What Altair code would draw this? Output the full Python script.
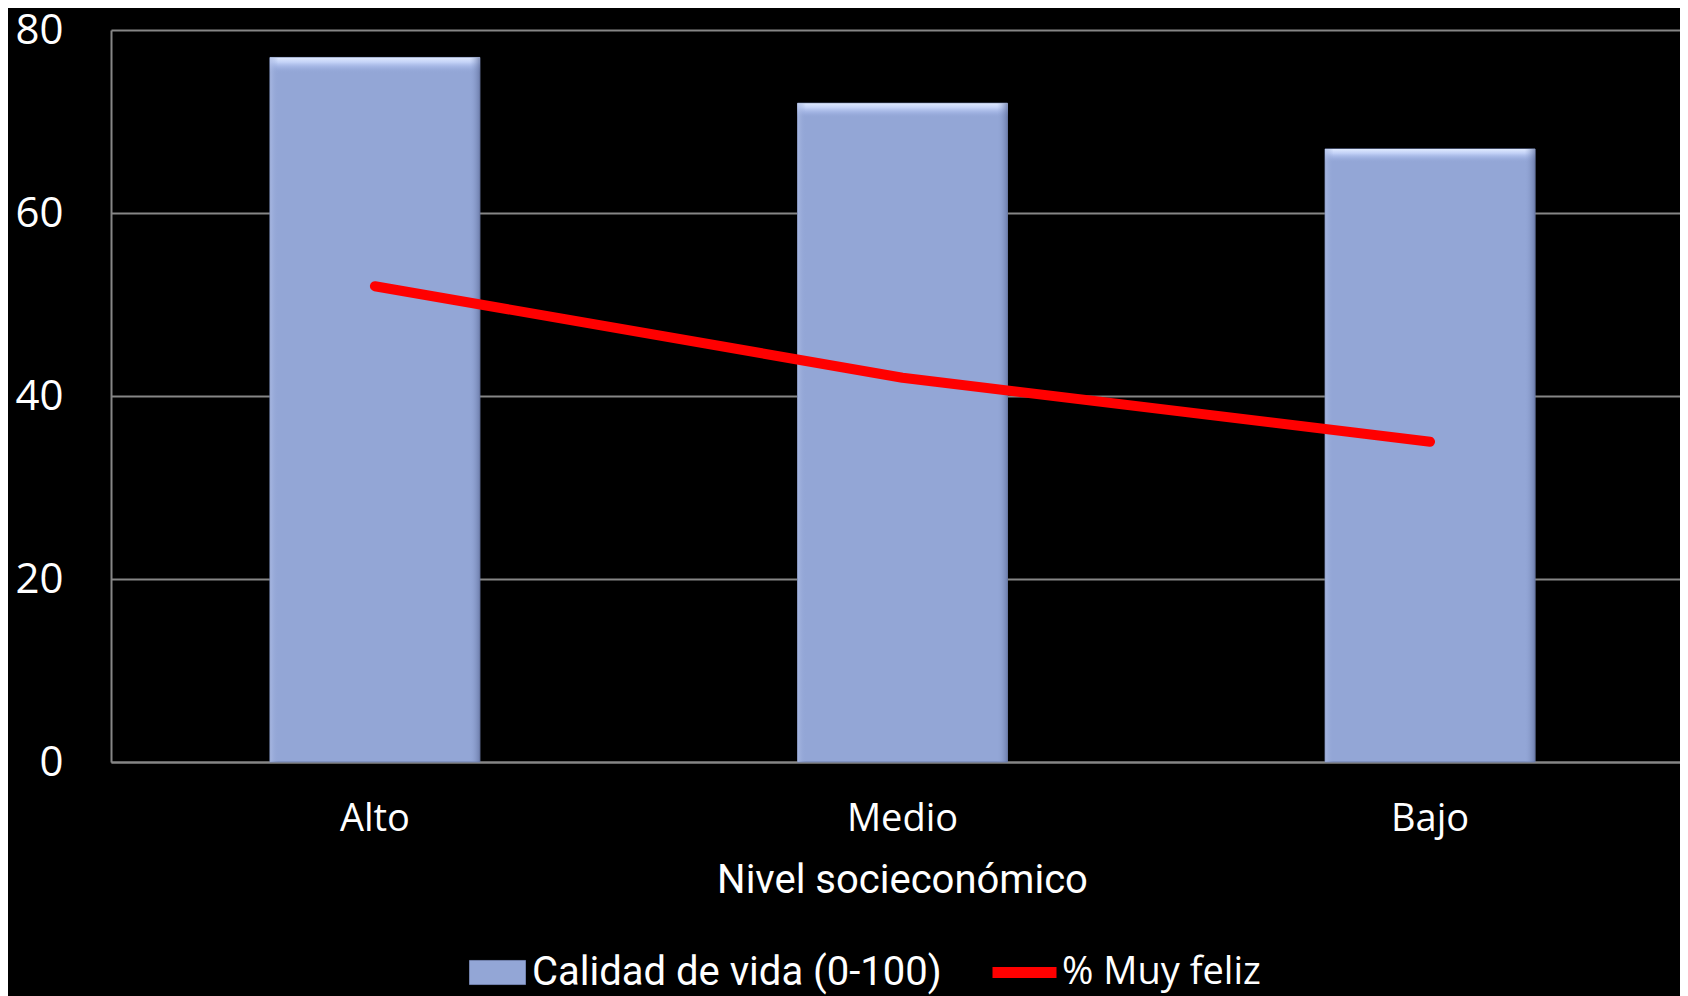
import altair as alt
import pandas as pd

niveles = ["Alto", "Medio", "Bajo"]
calidad = [77, 72, 67]
feliz = [52, 42, 35]
serie_barra = "Calidad de vida (0-100)"
serie_linea = "% Muy feliz"
y_ticks = [0, 20, 40, 60, 80]

df = pd.DataFrame({
    "nivel": niveles,
    "calidad": calidad,
    "feliz": feliz,
    "serie_barra": [serie_barra] * len(niveles),
    "serie_linea": [serie_linea] * len(niveles),
})

GRID = "#868686"

x_enc = alt.X(
    "nivel:N",
    sort=niveles,
    scale=alt.Scale(paddingInner=0.602, paddingOuter=0.288, align=0.523),
    axis=alt.Axis(
        title="Nivel socieconómico",
        labelAngle=0,
        labelFont="Open Sans",
        labelFontSize=38,
        labelColor="white",
        labelPadding=38,
        ticks=False,
        domainColor=GRID,
        domainWidth=2,
        titleFont="Roboto",
        titleFontSize=40,
        titleFontWeight="normal",
        titleColor="white",
        titlePadding=22,
        titleX=791,
        titleAlign="center",
        grid=False,
    ),
)

y_scale = alt.Scale(domain=[0, 80], nice=False)
y_axis = alt.Axis(
    title=None,
    values=y_ticks,
    labelFont="Open Sans",
    labelFontSize=42,
    labelColor="white",
    labelPadding=48,
    ticks=False,
    domainColor=GRID,
    domainWidth=2,
    grid=True,
    gridColor=GRID,
    gridWidth=2,
)

base = alt.Chart(df)

bars = base.mark_bar(stroke="#6e7ea8", strokeWidth=1).encode(
    x=x_enc,
    y=alt.Y("calidad:Q", scale=y_scale, axis=y_axis),
    fill=alt.Fill(
        "serie_barra:N",
        scale=alt.Scale(domain=[serie_barra], range=["#93a6d6"]),
        legend=alt.Legend(
            orient="none",
            legendX=358,
            legendY=914,
            title=None,
            padding=0,
            symbolType="M-1,-0.43H1V0.43H-1Z",
            symbolSize=3136,
            symbolStrokeColor="#7282ad",
            symbolStrokeWidth=1,
            labelFont="Roboto",
            labelFontSize=40,
            labelColor="white",
            labelOffset=6,
            labelLimit=1000,
        ),
    ),
)

top_bevel = base.mark_bar(
    fill={
        "gradient": "linear",
        "x1": 0, "y1": 0, "x2": 0, "y2": 1,
        "stops": [
            {"offset": 0, "color": "rgba(225,235,255,1)"},
            {"offset": 0.007, "color": "rgba(200,214,250,0.9)"},
            {"offset": 0.015, "color": "rgba(170,188,235,0.45)"},
            {"offset": 0.022, "color": "rgba(147,166,214,0)"},
            {"offset": 1, "color": "rgba(147,166,214,0)"},
        ],
    }
).encode(x=alt.X("nivel:N", sort=niveles), y=alt.Y("calidad:Q"))

side_bevel = base.mark_bar(
    fill={
        "gradient": "linear",
        "x1": 0, "y1": 0, "x2": 1, "y2": 0,
        "stops": [
            {"offset": 0, "color": "rgba(175,190,230,0.7)"},
            {"offset": 0.04, "color": "rgba(147,166,214,0)"},
            {"offset": 0.95, "color": "rgba(147,166,214,0)"},
            {"offset": 1, "color": "rgba(95,110,155,0.7)"},
        ],
    }
).encode(x=alt.X("nivel:N", sort=niveles), y=alt.Y("calidad:Q"))

line = base.mark_line(strokeWidth=10, strokeCap="round", strokeJoin="round").encode(
    x=alt.X("nivel:N", sort=niveles),
    y=alt.Y("feliz:Q"),
    stroke=alt.Stroke(
        "serie_linea:N",
        scale=alt.Scale(domain=[serie_linea], range=["#ff0000"]),
        legend=alt.Legend(
            orient="none",
            legendX=876,
            legendY=905,
            title=None,
            padding=0,
            symbolType="stroke",
            symbolSize=4096,
            symbolStrokeWidth=11,
            labelFont="Open Sans",
            labelFontSize=38,
            labelColor="white",
            labelOffset=0,
            labelLimit=1000,
        ),
    ),
)

chart = (
    alt.layer(bars, top_bevel, side_bevel, line)
    .resolve_scale(fill="independent", stroke="independent")
    .properties(
        width=1569,
        height=732,
        autosize=alt.AutoSizeParams(type="none"),
        padding={"left": 103, "top": 22, "right": 0, "bottom": 234},
        background="black",
    )
    .configure_view(stroke=None)
)

chart.save("out.html", embed_options={"renderer": "svg", "actions": False})
